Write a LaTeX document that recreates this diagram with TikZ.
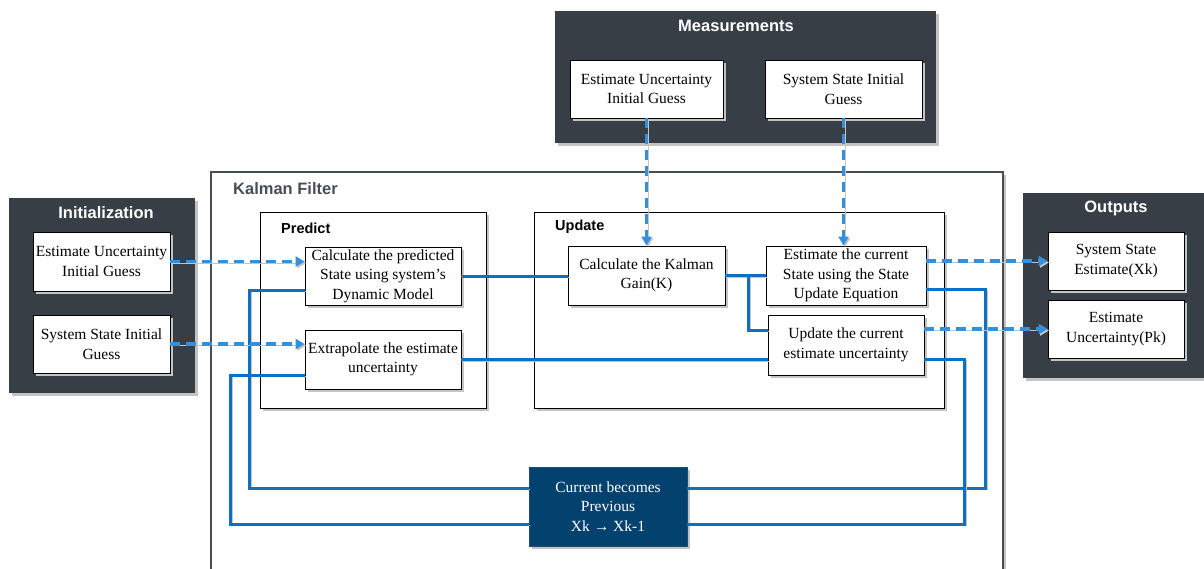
\documentclass[tikz,border=0pt]{standalone}
\usepackage{fontspec}
\setmainfont{Liberation Serif}
\setsansfont{Liberation Sans}
\usetikzlibrary{arrows.meta,positioning,shadows}
\definecolor{kfpanelfill}{RGB}{55,62,70}
\definecolor{kfframeink}{RGB}{72,78,86}
\definecolor{kfflowblue}{RGB}{14,112,192}
\definecolor{kfdashblue}{RGB}{52,144,220}
\definecolor{kfnavy}{RGB}{3,66,111}
\definecolor{kfshade}{RGB}{196,196,196}
\tikzset{
  kfshadow/.style={drop shadow={shadow xshift=2.5pt, shadow yshift=-2.5pt,
    fill=kfshade, opacity=1}},
  kfbox/.style={draw=black, line width=0.8pt, fill=white, align=center,
    font=\fontsize{15.5}{19.5}\selectfont, inner sep=0pt, kfshadow},
  kfpanel/.style={fill=kfpanelfill, kfshadow},
  kfframe/.style={draw=kfframeink, line width=1.4pt, kfshadow},
  kfgroup/.style={draw=black, line width=0.8pt, fill=white, kfshadow},
  kftitle/.style={font=\sffamily\bfseries\fontsize{16.5}{20}\selectfont,
    text=white, inner sep=0pt},
  kfsubtitle/.style={font=\sffamily\bfseries\fontsize{14.5}{18}\selectfont,
    text=black, inner sep=0pt, anchor=west},
  kfnavybox/.style={fill=kfnavy, draw=kfnavy!80!gray, text=white, align=center,
    font=\fontsize{15.5}{19.5}\selectfont, inner sep=0pt, kfshadow},
  kflineshade/.style={preaction={draw=kfshade,
    transform canvas={shift={(1.5pt,-1.5pt)}}}},
  kfflow/.style={draw=kfflowblue, line width=3pt, kflineshade},
  kfdash/.style={draw=kfdashblue, line width=3.2pt, dash pattern=on 10pt off 6pt,
    -{Triangle[length=9pt,width=10pt]}, kflineshade},
}
\begin{document}
\begin{tikzpicture}[x=1pt,y=-1pt]
  \useasboundingbox (0,0) rectangle (1204,568);
  \fill[kfpanel] (555,11) rectangle (936,143);
  \fill[kfpanel] (9,198) rectangle (195,393);
  \fill[kfpanel] (1023,193) rectangle (1204,378);
  \draw[kfframe, fill=white] (211,172) rectangle (1003,600);
  \draw[kfgroup] (260,212) rectangle (486,408);
  \draw[kfgroup] (534,212) rectangle (944,408);

  \node[kftitle] (meastitle) at (736,26) {Measurements};
  \node[kftitle] (inittitle) at (106,213) {Initialization};
  \node[kftitle] (outtitle) at (1116,208) {Outputs};
  \node[kftitle, text=kfframeink, anchor=west] (kftitle) at (233,189) {Kalman Filter};
  \node[kfsubtitle] (predtitle) at (281,228) {Predict};
  \node[kfsubtitle] (updtitle) at (555,227) {Update};

  \node[kfbox, minimum width=153pt, minimum height=58pt] (measunc) at (646.5,89)
    {Estimate Uncertainty\\Initial Guess};
  \node[kfbox, minimum width=157pt, minimum height=58pt] (measstate) at (843.5,89)
    {System State Initial\\Guess};
  \node[kfbox, minimum width=137pt, minimum height=59pt] (initunc) at (101.5,261.5)
    {Estimate Uncertainty\\Initial Guess};
  \node[kfbox, minimum width=137pt, minimum height=58pt] (initstate) at (101.5,344)
    {System State Initial\\Guess};
  \node[kfbox, minimum width=156pt, minimum height=58pt] (calcpred) at (383,276)
    {Calculate the predicted\\State using system's\\Dynamic Model};
  \node[kfbox, minimum width=156pt, minimum height=59pt] (extrap) at (383,359.5)
    {Extrapolate the estimate\\uncertainty};
  \node[kfbox, minimum width=157pt, minimum height=59pt] (kgain) at (646.5,275.5)
    {Calculate the Kalman\\Gain(K)};
  \node[kfbox, minimum width=160pt, minimum height=59pt] (estcur) at (846,275.5)
    {Estimate the current\\State using the State\\Update Equation};
  \node[kfbox, minimum width=156pt, minimum height=60pt] (updcur) at (846,345)
    {Update the current\\estimate uncertainty};
  \node[kfbox, minimum width=136pt, minimum height=58pt] (outstate) at (1116,261)
    {System State\\Estimate(Xk)};
  \node[kfbox, minimum width=136pt, minimum height=58pt] (outunc) at (1116,329)
    {Estimate\\Uncertainty(Pk)};
  \node[kfnavybox, minimum width=158pt, minimum height=79pt] (curprev) at (608,506.5)
    {Current becomes\\Previous\\Xk → Xk-1};

  \draw[kfflow] (calcpred.east) -- (calcpred.east -| kgain.west);
  \draw[kfflow] (kgain) -- (estcur);
  \draw[kfflow] (kgain.east) -- ++(23,0) |- ([yshift=15pt]updcur.west);
  \draw[kfflow] (extrap.east) -- (extrap.east -| updcur.west);
  \draw[kfflow] ([yshift=-13.5pt]estcur.east) -- ++(59,0) |- ([yshift=18.5pt]curprev.east);
  \draw[kfflow] ([yshift=-14pt]updcur.east) -- ++(40,0) |- ([yshift=-17.5pt]curprev.east);
  \draw[kfflow] ([yshift=18.5pt]curprev.west) -- ++(-279,0) |- ([yshift=-14pt]calcpred.west);
  \draw[kfflow] ([yshift=-17.5pt]curprev.west) -- ++(-298,0) |- ([yshift=-15.5pt]extrap.west);

  \draw[kfdash] (initunc) -- (initunc -| calcpred.west);
  \draw[kfdash] (initstate) -- (initstate -| extrap.west);
  \draw[kfdash] (measunc) -- (kgain);
  \draw[kfdash] (measstate) -- (measstate |- estcur.north);
  \draw[kfdash] (estcur.east |- outstate) -- (outstate);
  \draw[kfdash] (updcur.east |- outunc) -- (outunc);
\end{tikzpicture}
\end{document}
